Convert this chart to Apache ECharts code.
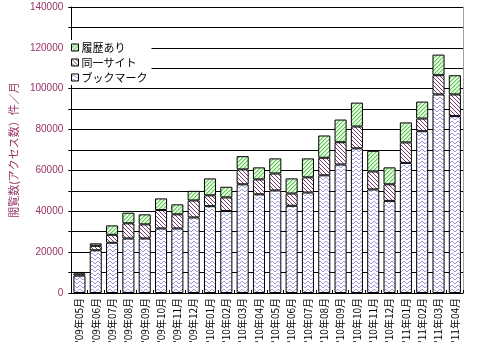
<!DOCTYPE html>
<html>
<head>
<meta charset="utf-8">
<script src="https://cdn.jsdelivr.net/npm/echarts@6/dist/echarts.min.js"></script>
<style>
html,body{margin:0;padding:0;background:#fff;}
#c{width:477px;height:346px;}
</style>
</head>
<body>
<div id="c"></div>
<script>
const categories = ["'09年05月","'09年06月","'09年07月","'09年08月","'09年09月","'09年10月","'09年11月","'09年12月",
  "'10年01月","'10年02月","'10年03月","'10年04月","'10年05月","'10年06月","'10年07月","'10年08月",
  "'10年09月","'10年10月","'10年11月","'10年12月","'11年01月","'11年02月","'11年03月","'11年04月"];
const bookmark = [8500,20900,24600,26700,26700,31600,31600,37000,42500,40100,53200,48300,50200,42700,49200,57600,62900,70800,50700,45100,63700,79200,97200,86600];
const sameSite = [1000,2200,3900,7400,6900,9000,6900,8300,5300,6700,7300,7300,8300,6000,7400,8600,10900,10700,8800,8100,10000,6200,9400,10600];
const history = [800,1200,4600,5200,4900,5700,4900,4700,8300,5200,6500,5900,7400,7400,9300,10900,11100,11700,10100,8300,9800,8300,10100,9400];
const seriesNames = ['ブックマーク','同一サイト','履歴あり'];
const legendOrder = ['履歴あり','同一サイト','ブックマーク'];
const yTicks = {min:0, max:140000, step:10000, labelStep:20000};

function makeCanvas(w,h,bg){
  const c=document.createElement('canvas'); c.width=w; c.height=h;
  const x=c.getContext('2d'); x.fillStyle=bg; x.fillRect(0,0,w,h); return [c,x];
}
// wave pattern (bookmark)
const [waveC, wx] = makeCanvas(6,4,'#ffffff');
wx.fillStyle='#9a9ae6';
[[0,2],[1,1],[2,1],[3,2],[4,3],[5,3]].forEach(p=>wx.fillRect(p[0],p[1],1,1));
// back-diagonal (same site)
const [diagC, dx] = makeCanvas(4,4,'#ffffff');
dx.fillStyle='#7a3a70';
for(let i=0;i<4;i++) dx.fillRect(i,i,1,1);
// forward diagonal green (history)
const [grC, gx] = makeCanvas(4,4,'#e6fbe0');
gx.fillStyle='#5cc85c';
for(let i=0;i<4;i++){ gx.fillRect(3-i,i,1,1); }
gx.fillStyle='#b4e8a8';
for(let i=0;i<4;i++){ gx.fillRect((4-i)%4,i,1,1); }

const fills = [
  {image: waveC, repeat:'repeat'},
  {image: diagC, repeat:'repeat'},
  {image: grC, repeat:'repeat'}
];
const dataSets=[bookmark,sameSite,history];

const chart = echarts.init(document.getElementById('c'), null, {renderer:'canvas'});
chart.setOption({
  animation:false,
  backgroundColor:'#ffffff',
  textStyle:{fontFamily:'"Noto Sans CJK JP", sans-serif'},
  grid:{left:57, right:14, top:7, bottom:53, containLabel:false},
  legend:{
    data: legendOrder,
    orient:'vertical',
    left:68, top:40,
    itemWidth:7, itemHeight:7, itemGap:4,
    padding:[2,4,2,3],
    backgroundColor:'#ffffff',
    textStyle:{fontSize:11,color:'#000',fontFamily:'"Noto Sans CJK JP", sans-serif', padding:[0,0,0,-2]},
    icon:'rect',
    itemStyle:{borderColor:'#000',borderWidth:1}
  },
  xAxis:{
    type:'category',
    data:categories,
    axisLine:{lineStyle:{color:'#000',width:1}},
    axisTick:{show:true,inside:true,length:3,lineStyle:{color:'#000'}},
    axisLabel:{rotate:90,fontSize:10,color:'#000',margin:5,interval:0,fontFamily:'"Noto Sans CJK JP", sans-serif'}
  },
  yAxis:[{
    type:'value',
    min:yTicks.min, max:yTicks.max, interval:yTicks.step,
    name:'閲覧数(アクセス数）件／月',
    nameLocation:'middle',
    nameGap:40,
    nameTextStyle:{color:'#993366',fontSize:11,fontFamily:'"Noto Sans CJK JP", sans-serif'},
    axisLine:{show:true,lineStyle:{color:'#000',width:1}},
    axisTick:{show:true,length:3,lineStyle:{color:'#000'}},
    axisLabel:{color:'#993366',fontSize:10,margin:8,fontFamily:'Liberation Sans, Arial, sans-serif',
      formatter:v=> (v % yTicks.labelStep===0)? String(v):''},
    splitLine:{show:true,lineStyle:{color:'#000',width:1}}
  },{
    type:'value', position:'right',
    min:yTicks.min, max:yTicks.max, interval:yTicks.step,
    axisLine:{show:true,lineStyle:{color:'#a0a0a0',width:1}},
    axisTick:{show:false}, axisLabel:{show:false}, splitLine:{show:false}
  }],
  series: seriesNames.map((n,i)=>({
    name:n,
    type:'bar',
    stack:'total',
    barWidth:'74%',
    data:dataSets[i],
    itemStyle:{color:fills[i],borderColor:'#000',borderWidth:1},
    emphasis:{disabled:true}
  }))
});
</script>
</body>
</html>
